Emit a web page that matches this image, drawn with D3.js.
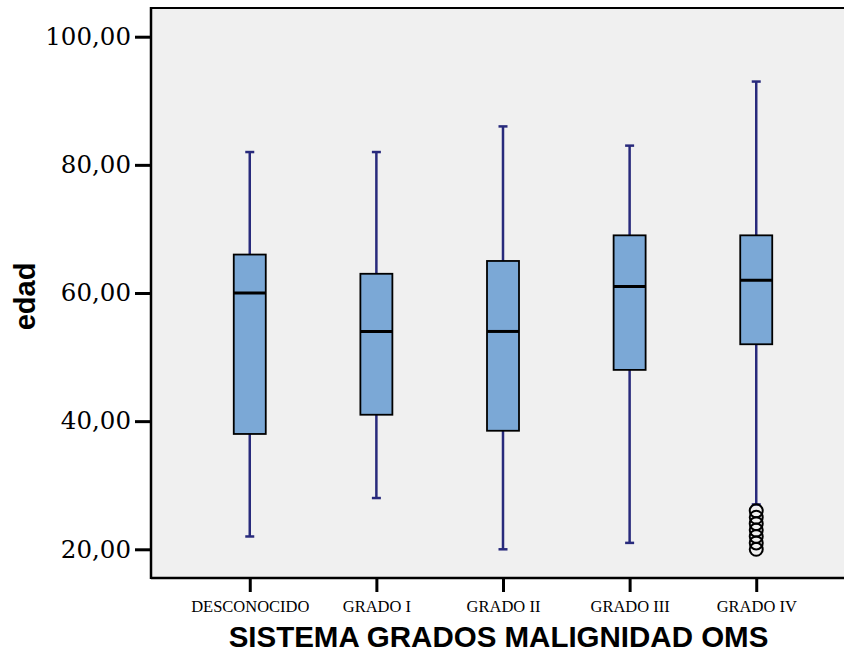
<!DOCTYPE html>
<html>
<head>
<meta charset="utf-8">
<script src="https://cdn.jsdelivr.net/npm/d3@7"></script>
<style>
  html, body { margin: 0; padding: 0; background: #ffffff; }
  svg { display: block; }
</style>
</head>
<body>
<script>
const categories = ["DESCONOCIDO", "GRADO I", "GRADO II", "GRADO III", "GRADO IV"];
const whiskerLow  = [22, 28, 20, 21, 27];
const q1          = [38, 41, 38.5, 48, 52];
const median      = [60, 54, 54, 61, 62];
const q3          = [66, 63, 65, 69, 69];
const whiskerHigh = [82, 82, 86, 83, 93];
const outliers = [
  { cat: "GRADO IV", values: [20, 21, 22, 23, 24, 25, 26] }
];
const yTicks = [20, 40, 60, 80, 100];
const xTitle = "SISTEMA GRADOS MALIGNIDAD OMS";
const yTitle = "edad";

const W = 844, H = 653;
const plot = { left: 151, right: 855, top: 8, bottom: 578 };

const svg = d3.select("body").append("svg").attr("width", W).attr("height", H);

const x = d3.scalePoint().domain(categories).range([plot.left, plot.right]).padding(0.78);
const y = d3.scaleLinear().domain([15.52, 104.48]).range([plot.bottom, plot.top]);

// background
svg.append("rect")
  .attr("x", plot.left).attr("y", plot.top)
  .attr("width", plot.right - plot.left).attr("height", plot.bottom - plot.top)
  .attr("fill", "#f0f0f0");

const boxW = 32, capW = 9;
const whiskerColor = "#282a7c";
const data = categories.map((c, i) => ({
  cat: c, lo: whiskerLow[i], q1: q1[i], med: median[i], q3: q3[i], hi: whiskerHigh[i]
}));

const g = svg.append("g");
const b = g.selectAll("g.box").data(data).join("g").attr("class", "box");

// whiskers
b.append("line")
  .attr("x1", d => x(d.cat)).attr("x2", d => x(d.cat))
  .attr("y1", d => y(d.hi)).attr("y2", d => y(d.q3))
  .attr("stroke", whiskerColor).attr("stroke-width", 2.5);
b.append("line")
  .attr("x1", d => x(d.cat)).attr("x2", d => x(d.cat))
  .attr("y1", d => y(d.q1)).attr("y2", d => y(d.lo))
  .attr("stroke", whiskerColor).attr("stroke-width", 2.5);
// caps
b.append("line")
  .attr("x1", d => x(d.cat) - capW / 2).attr("x2", d => x(d.cat) + capW / 2)
  .attr("y1", d => y(d.hi)).attr("y2", d => y(d.hi))
  .attr("stroke", whiskerColor).attr("stroke-width", 2.5);
b.append("line")
  .attr("x1", d => x(d.cat) - capW / 2).attr("x2", d => x(d.cat) + capW / 2)
  .attr("y1", d => y(d.lo)).attr("y2", d => y(d.lo))
  .attr("stroke", whiskerColor).attr("stroke-width", 2.5);
// boxes
b.append("rect")
  .attr("x", d => x(d.cat) - boxW / 2).attr("width", boxW)
  .attr("y", d => y(d.q3)).attr("height", d => y(d.q1) - y(d.q3))
  .attr("fill", "#7ba8d6").attr("stroke", "#000").attr("stroke-width", 1.8);
// medians
b.append("line")
  .attr("x1", d => x(d.cat) - boxW / 2).attr("x2", d => x(d.cat) + boxW / 2)
  .attr("y1", d => y(d.med)).attr("y2", d => y(d.med))
  .attr("stroke", "#000").attr("stroke-width", 3);

// outliers
outliers.forEach(o => {
  g.selectAll(null).data(o.values).join("circle")
    .attr("cx", x(o.cat)).attr("cy", v => y(v)).attr("r", 6.5)
    .attr("fill", "none").attr("stroke", "#000").attr("stroke-width", 2);
});

// frame
svg.append("line").attr("x1", plot.left).attr("x2", W).attr("y1", plot.top).attr("y2", plot.top)
  .attr("stroke", "#000").attr("stroke-width", 2);
svg.append("line").attr("x1", plot.left).attr("x2", plot.left).attr("y1", plot.top - 1).attr("y2", plot.bottom + 1)
  .attr("stroke", "#000").attr("stroke-width", 2.5);
svg.append("line").attr("x1", plot.left).attr("x2", W).attr("y1", plot.bottom).attr("y2", plot.bottom)
  .attr("stroke", "#000").attr("stroke-width", 2.5);

// y axis
const fmt = v => d3.format(".2f")(v).replace(".", ",");
const yAxis = d3.axisLeft(y).tickValues(yTicks).tickFormat(fmt).tickSize(16).tickPadding(4);
const ya = svg.append("g").attr("transform", `translate(${plot.left},0)`).call(yAxis);
ya.select(".domain").remove();
ya.selectAll(".tick line").attr("stroke", "#000").attr("stroke-width", 3);
ya.selectAll(".tick text")
  .attr("font-family", "'DejaVu Serif', serif").attr("font-size", 24.5).attr("fill", "#000");

// x axis
const xAxis = d3.axisBottom(x).tickSize(14).tickPadding(8);
const xa = svg.append("g").attr("transform", `translate(0,${plot.bottom})`).call(xAxis);
xa.select(".domain").remove();
xa.selectAll(".tick line").attr("stroke", "#000").attr("stroke-width", 3);
xa.selectAll(".tick text")
  .attr("font-family", "'Liberation Serif', serif").attr("font-size", 16.5).attr("fill", "#000");

// titles
svg.append("text")
  .attr("x", 498.5).attr("y", 647)
  .attr("text-anchor", "middle")
  .attr("font-family", "'Liberation Sans', Arial, sans-serif")
  .attr("font-weight", "bold").attr("font-size", 29.5)
  .text(xTitle);
svg.append("text")
  .attr("transform", "translate(35,296.5) rotate(-90)")
  .attr("text-anchor", "middle")
  .attr("font-family", "'Liberation Sans', Arial, sans-serif")
  .attr("font-weight", "bold").attr("font-size", 29)
  .text(yTitle);
</script>
</body>
</html>
